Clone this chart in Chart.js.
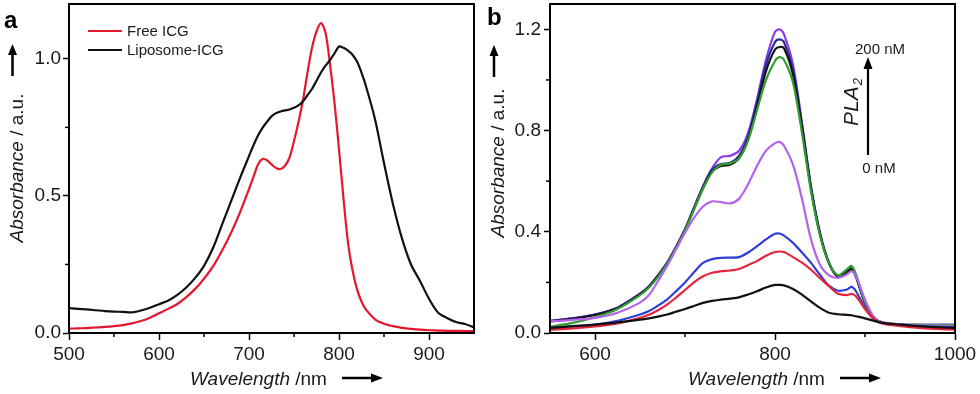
<!DOCTYPE html>
<html><head><meta charset="utf-8">
<script src="https://cdn.jsdelivr.net/npm/chart.js@4.4.1/dist/chart.umd.min.js"></script>
<style>
html,body{margin:0;padding:0;background:#fff;width:980px;height:394px;overflow:hidden}
#wa{position:absolute;left:0;top:0;width:490px;height:394px}
#wb{position:absolute;left:470px;top:0;width:510px;height:394px}
</style></head><body>
<div id="wa"><canvas id="ca"></canvas></div>
<div id="wb"><canvas id="cb"></canvas></div>
<script>
// ---------- Panel a data ----------
const wavelengthA = [500,510,520,530,540,550,560,570,580,590,600,610,620,630,640,650,660,670,680,690,700,705,710,715,720,725,730,735,740,745,750,755,760,765,770,775,780,785,790,795,800,805,810,815,820,825,830,840,850,860,870,880,890,900,910,920,930,940,950];
const freeICG = [0.016,0.017,0.018,0.020,0.022,0.025,0.029,0.035,0.044,0.056,0.072,0.088,0.105,0.130,0.160,0.198,0.243,0.300,0.365,0.440,0.525,0.570,0.615,0.635,0.630,0.615,0.602,0.598,0.610,0.640,0.700,0.770,0.850,0.950,1.040,1.100,1.130,1.095,0.980,0.840,0.670,0.490,0.330,0.230,0.160,0.115,0.085,0.050,0.034,0.025,0.019,0.015,0.012,0.010,0.009,0.008,0.008,0.007,0.007];
const liposomeICG = [0.091,0.088,0.086,0.083,0.080,0.078,0.077,0.075,0.082,0.092,0.105,0.118,0.138,0.165,0.200,0.245,0.310,0.395,0.480,0.565,0.645,0.685,0.720,0.748,0.770,0.790,0.802,0.808,0.812,0.815,0.822,0.830,0.845,0.868,0.890,0.920,0.950,0.975,0.995,1.020,1.045,1.040,1.030,1.015,0.990,0.950,0.900,0.780,0.620,0.470,0.345,0.250,0.190,0.125,0.075,0.055,0.040,0.033,0.020];
const seriesNamesA = ['Free ICG','Liposome-ICG'];
const xTicksA = [500,600,700,800,900];
const xMinorA = [550,650,750,850];
const yTicksA = [0,0.5,1.0];
const yMinorA = [0.25,0.75];

// ---------- Panel b data ----------
const wavelengthB = [550,575,600,625,650,660,670,680,690,700,710,720,730,740,750,760,770,780,790,800,805,810,820,830,840,850,860,870,880,885,890,900,910,920,940,960,980,1000];
const pla0 =   [0.020,0.027,0.033,0.042,0.053,0.058,0.065,0.073,0.084,0.095,0.107,0.119,0.127,0.132,0.136,0.141,0.152,0.165,0.180,0.190,0.190,0.188,0.174,0.152,0.125,0.099,0.080,0.074,0.072,0.070,0.066,0.058,0.048,0.040,0.033,0.027,0.023,0.020];
const pla1 =   [0.013,0.018,0.026,0.038,0.060,0.072,0.090,0.112,0.140,0.170,0.200,0.224,0.238,0.244,0.247,0.253,0.268,0.284,0.305,0.320,0.322,0.320,0.300,0.278,0.250,0.217,0.185,0.155,0.150,0.155,0.145,0.095,0.055,0.037,0.027,0.020,0.016,0.013];
const pla2 =   [0.020,0.026,0.033,0.048,0.073,0.087,0.108,0.132,0.165,0.200,0.240,0.277,0.292,0.297,0.298,0.300,0.318,0.343,0.370,0.392,0.393,0.385,0.356,0.318,0.277,0.230,0.187,0.167,0.172,0.182,0.165,0.100,0.055,0.038,0.030,0.026,0.024,0.022];
const pla3 =   [0.046,0.052,0.060,0.080,0.120,0.150,0.205,0.264,0.330,0.396,0.455,0.500,0.520,0.517,0.512,0.530,0.587,0.660,0.720,0.750,0.755,0.740,0.665,0.530,0.370,0.270,0.228,0.218,0.232,0.244,0.224,0.132,0.062,0.042,0.034,0.030,0.028,0.026];
const pla4 =   [0.025,0.040,0.062,0.095,0.150,0.180,0.222,0.272,0.335,0.405,0.488,0.570,0.635,0.665,0.670,0.690,0.760,0.880,1.000,1.075,1.090,1.080,0.990,0.790,0.560,0.385,0.275,0.228,0.252,0.265,0.232,0.122,0.060,0.040,0.033,0.032,0.031,0.031];
const pla5 =   [0.046,0.056,0.071,0.098,0.152,0.182,0.225,0.274,0.337,0.406,0.490,0.572,0.638,0.660,0.665,0.690,0.765,0.895,1.035,1.120,1.130,1.125,1.020,0.810,0.570,0.390,0.275,0.222,0.240,0.252,0.222,0.118,0.058,0.040,0.032,0.030,0.030,0.030];
const pla6 =   [0.048,0.058,0.073,0.100,0.155,0.185,0.228,0.277,0.340,0.410,0.495,0.578,0.645,0.668,0.672,0.700,0.775,0.910,1.060,1.150,1.160,1.150,1.040,0.820,0.575,0.393,0.277,0.224,0.242,0.255,0.224,0.120,0.060,0.040,0.033,0.032,0.032,0.032];
const pla7 =   [0.048,0.058,0.073,0.100,0.155,0.185,0.228,0.277,0.340,0.410,0.495,0.580,0.650,0.695,0.700,0.720,0.790,0.924,1.080,1.190,1.200,1.180,1.060,0.830,0.580,0.396,0.277,0.225,0.244,0.257,0.224,0.120,0.060,0.040,0.033,0.032,0.032,0.032];
const xTicksB = [600,800,1000];
const xMinorB = [700,900];
const yTicksB = [0,0.4,0.8,1.2];
const yMinorB = [0.2,0.6,1.0];

const FONT = '"Liberation Sans", Arial, Helvetica, sans-serif';
const INK = '#1a1a1a';

function drawArrow(ctx, x1, y1, x2, y2, head, half){
  const ang = Math.atan2(y2-y1, x2-x1);
  const bx = x2 - head*Math.cos(ang), by = y2 - head*Math.sin(ang);
  ctx.beginPath(); ctx.moveTo(x1,y1); ctx.lineTo(bx,by); ctx.stroke();
  ctx.beginPath();
  ctx.moveTo(x2,y2);
  ctx.lineTo(bx + half*Math.sin(ang), by - half*Math.cos(ang));
  ctx.lineTo(bx - half*Math.sin(ang), by + half*Math.cos(ang));
  ctx.closePath(); ctx.fill();
}

function decorPlugin(cfg){
  return {
    id: 'decor',
    afterDraw(chart){
      const ctx = chart.ctx, a = chart.chartArea;
      const xs = chart.scales.x, ys = chart.scales.y;
      ctx.save();
      ctx.strokeStyle = '#000'; ctx.lineWidth = 1.5;
      cfg.xMinor.forEach(v => { const px = xs.getPixelForValue(v); ctx.beginPath(); ctx.moveTo(px, a.bottom); ctx.lineTo(px, a.bottom+4); ctx.stroke(); });
      cfg.yMinor.forEach(v => { const py = ys.getPixelForValue(v); ctx.beginPath(); ctx.moveTo(a.left, py); ctx.lineTo(a.left-4, py); ctx.stroke(); });
      ctx.lineWidth = 2; ctx.strokeStyle = '#000';
      ctx.strokeRect(a.left, a.top, a.right-a.left, a.bottom-a.top);
      ctx.fillStyle = '#000';
      ctx.font = 'bold 24px ' + FONT;
      ctx.textAlign = 'left'; ctx.textBaseline = 'alphabetic';
      ctx.fillText(cfg.letter, cfg.letterX, cfg.letterY);
      ctx.save();
      ctx.translate(cfg.yTitleX, cfg.yTitleY);
      ctx.rotate(-Math.PI/2);
      ctx.fillStyle = INK;
      const fI = 'italic 19px ' + FONT, fN = '19px ' + FONT;
      ctx.font = fI; const w1 = ctx.measureText('Absorbance').width;
      ctx.font = fN; const w2 = ctx.measureText(' / a.u.').width;
      let sx = -(w1+w2)/2;
      ctx.textAlign = 'left';
      ctx.font = fI; ctx.fillText('Absorbance', sx, 0);
      ctx.font = fN; ctx.fillText(' / a.u.', sx + w1, 0);
      ctx.restore();
      ctx.fillStyle = '#000'; ctx.strokeStyle = '#000'; ctx.lineWidth = 2.5;
      drawArrow(ctx, cfg.yArrowX, cfg.yArrowY1, cfg.yArrowX, cfg.yArrowY2, 11, 4.5);
      ctx.fillStyle = INK; ctx.textAlign = 'left';
      ctx.font = fI; const v1 = ctx.measureText('Wavelength').width;
      ctx.fillText('Wavelength', cfg.xTitleX, cfg.xTitleY);
      ctx.font = fN; ctx.fillText(' /nm', cfg.xTitleX + v1, cfg.xTitleY);
      ctx.fillStyle = '#000';
      drawArrow(ctx, cfg.xArrowX1, cfg.xArrowY, cfg.xArrowX2, cfg.xArrowY, 12, 4.5);
      if (cfg.extra) cfg.extra(ctx, chart);
      ctx.restore();
    }
  };
}

function axisCommon(min, max, ticks, fmt, isY, size, tickLen, pad){
  return {
    type: 'linear', min: min, max: max,
    afterBuildTicks: s => { s.ticks = ticks.map(v => ({value: v})); },
    afterFit: s => {
      if (isY) s.width = size; else s.height = size;
      s.paddingTop = 0; s.paddingBottom = 0; s.paddingLeft = 0; s.paddingRight = 0;
    },
    ticks: { font: {family: FONT, size: 19}, color: INK, padding: pad, autoSkip: false, maxRotation: 0, callback: fmt },
    grid: { drawOnChartArea: false, drawTicks: true, tickLength: tickLen, tickColor: '#000', tickWidth: 1.5 },
    border: { display: true, color: '#000', width: 2 }
  };
}

function line(label, xs, ys, color, w){
  return { label: label, data: xs.map((x,i) => ({x: x, y: ys[i]})), borderColor: color, backgroundColor: color,
           borderWidth: w || 2.2, pointRadius: 0, tension: 0.3, fill: false };
}

// ---------- Chart a ----------
new Chart(document.getElementById('ca'), {
  type: 'line',
  data: { datasets: [
    line(seriesNamesA[1], wavelengthA, liposomeICG, '#111111', 2.2),
    line(seriesNamesA[0], wavelengthA, freeICG, '#e3182f', 2.2)
  ]},
  options: {
    responsive: true, maintainAspectRatio: false, animation: false, devicePixelRatio: 1,
    layout: { padding: { left: 0, top: 4, right: 16, bottom: 0 } },
    plugins: { legend: { display: false }, tooltip: { enabled: false } },
    scales: {
      x: axisCommon(500, 950, xTicksA, v => String(v), false, 61, 7, 3),
      y: axisCommon(0, 1.2, yTicksA, v => Number(v).toFixed(1), true, 69, 6, 2)
    }
  },
  plugins: [decorPlugin({
    letter: 'a', letterX: 4, letterY: 28,
    xMinor: xMinorA, yMinor: yMinorA,
    yTitleX: 23, yTitleY: 168, yArrowX: 12.5, yArrowY1: 76, yArrowY2: 44,
    xTitleX: 190, xTitleY: 385, xArrowX1: 342, xArrowX2: 383, xArrowY: 378,
    extra: (ctx, chart) => {
      const ds = chart.data.datasets;
      const items = [[ds[1].label, ds[1].borderColor, 31], [ds[0].label, ds[0].borderColor, 50]];
      ctx.font = '15px ' + FONT; ctx.textAlign = 'left'; ctx.textBaseline = 'middle';
      items.forEach(it => {
        ctx.strokeStyle = it[1]; ctx.lineWidth = 2.2;
        ctx.beginPath(); ctx.moveTo(88, it[2]); ctx.lineTo(122, it[2]); ctx.stroke();
        ctx.fillStyle = INK; ctx.fillText(it[0], 127, it[2]+1);
      });
    }
  })]
});

// ---------- Chart b ----------
new Chart(document.getElementById('cb'), {
  type: 'line',
  data: { datasets: [
    line('0 nM', wavelengthB, pla0, '#111111'),
    line('PLA2 1', wavelengthB, pla1, '#e8243c'),
    line('PLA2 2', wavelengthB, pla2, '#2f3fd6'),
    line('PLA2 3', wavelengthB, pla3, '#b463ee'),
    line('PLA2 4', wavelengthB, pla4, '#2f9e2f'),
    line('PLA2 5', wavelengthB, pla5, '#151515'),
    line('PLA2 6', wavelengthB, pla6, '#2a2a9a'),
    line('200 nM', wavelengthB, pla7, '#8a3de6')
  ]},
  options: {
    responsive: true, maintainAspectRatio: false, animation: false, devicePixelRatio: 1,
    layout: { padding: { left: 0, top: 4, right: 25, bottom: 0 } },
    plugins: { legend: { display: false }, tooltip: { enabled: false } },
    scales: {
      x: axisCommon(550, 1000, xTicksB, v => String(v), false, 61, 7, 3),
      y: axisCommon(0, 1.3, yTicksB, v => Number(v).toFixed(1), true, 80, 6, 3)
    }
  },
  plugins: [decorPlugin({
    letter: 'b', letterX: 17, letterY: 25,
    xMinor: xMinorB, yMinor: yMinorB,
    yTitleX: 34, yTitleY: 163, yArrowX: 24, yArrowY1: 77, yArrowY2: 45,
    xTitleX: 218, xTitleY: 385, xArrowX1: 370, xArrowX2: 411, xArrowY: 378,
    extra: (ctx) => {
      ctx.fillStyle = '#000'; ctx.strokeStyle = '#000'; ctx.lineWidth = 2.2;
      drawArrow(ctx, 398, 155, 398, 57, 12, 4.5);
      ctx.fillStyle = INK; ctx.font = '15px ' + FONT; ctx.textAlign = 'center'; ctx.textBaseline = 'alphabetic';
      ctx.fillText('200 nM', 410, 54);
      ctx.fillText('0 nM', 409, 173);
      ctx.save();
      ctx.translate(388, 126);
      ctx.rotate(-Math.PI/2);
      ctx.textAlign = 'left';
      ctx.font = 'italic 21px ' + FONT;
      const wp = ctx.measureText('PLA').width;
      ctx.fillText('PLA', 0, 0);
      ctx.font = 'italic 13px ' + FONT;
      ctx.fillText('2', wp + 1, 4);
      ctx.restore();
    }
  })]
});
</script>
</body></html>
